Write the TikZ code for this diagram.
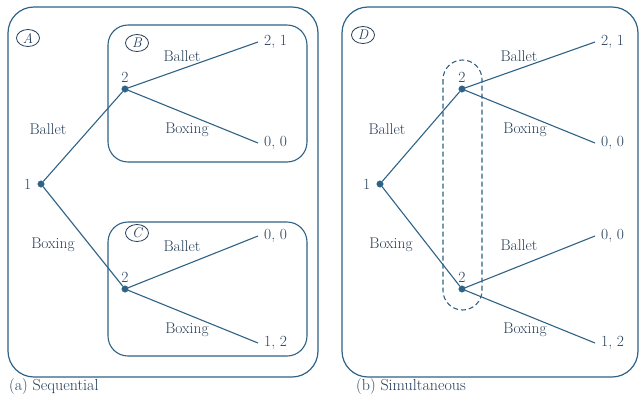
\documentclass[tikz,border=0pt]{standalone}
\usepackage{tikz}
\usetikzlibrary{positioning,shapes.geometric}
\definecolor{treeblue}{RGB}{46,98,134}
\definecolor{inkblue}{RGB}{38,62,88}
\tikzset{
  decision/.style={
    circle,
    fill=treeblue,
    draw=treeblue,
    inner sep=0pt,
    minimum size=6.5pt
  },
  branch/.style={
    treeblue,
    line width=1.1pt
  },
  frame/.style={
    draw=treeblue,
    line width=1.2pt,
    rounded corners=26pt
  },
  subgame/.style={
    draw=treeblue,
    line width=1.1pt,
    rounded corners=20pt
  },
  infoset/.style={
    draw=treeblue,
    line width=1.1pt,
    dash pattern=on 5pt off 3pt,
    rounded corners=19.5pt
  },
  move/.style={
    text=inkblue,
    inner sep=1pt,
    font=\fontsize{15.5}{18}\selectfont
  },
  payoff/.style={
    move,
    anchor=west,
    inner sep=6pt
  },
  tag/.style={
    ellipse,
    draw=inkblue,
    line width=0.8pt,
    text=inkblue,
    inner sep=0pt,
    minimum width=23pt,
    minimum height=17pt,
    font=\fontsize{14}{16}\selectfont\itshape
  }
}

\begin{document}
\begin{tikzpicture}[x=1pt,y=-1pt]
  \useasboundingbox (0,0) rectangle (641,397);

  % (a) sequential game: frames
  \draw[frame] (8,7) rectangle (318,377);
  \draw[subgame] (108,25) rectangle (307,162);
  \draw[subgame] (108,222) rectangle (307,356);
  \node[tag] (tagA) at (28,38) {A};
  \node[tag] (tagB) at (137,43) {B};
  \node[tag] (tagC) at (137,233) {C};

  % (a) tree
  \node[decision, label={[move, label distance=5pt]left:1}] (a1) at (41,184) {};
  \node[decision, label={[move, label distance=2pt]above:2}] (a2u) at (125,89) {};
  \node[decision, label={[move, label distance=2pt]above:2}] (a2l) at (125,289) {};
  \node[payoff] (a21) at (258,42) {2, 1};
  \node[payoff] (a00u) at (258,143) {0, 0};
  \node[payoff] (a00l) at (258,236) {0, 0};
  \node[payoff] (a12) at (258,343) {1, 2};
  \draw[branch] (a1) -- (a2u);
  \draw[branch] (a1) -- (a2l);
  \draw[branch] (a2u) -- (a21.west);
  \draw[branch] (a2u) -- (a00u.west);
  \draw[branch] (a2l) -- (a00l.west);
  \draw[branch] (a2l) -- (a12.west);
  \node[move] (aBa) at (48,129) {Ballet};
  \node[move] (aBo) at (53,245) {Boxing};
  \node[move] (aBaU) at (182,56) {Ballet};
  \node[move] (aBoU) at (187,130) {Boxing};
  \node[move] (aBaL) at (182,246) {Ballet};
  \node[move] (aBoL) at (187,330) {Boxing};

  % (b) simultaneous game: frame and information set
  \draw[frame] (342,7) rectangle (638,377);
  \draw[infoset] (443,60) rectangle (482,310);
  \node[tag] (tagD) at (363,35) {D};

  % (b) tree
  \node[decision, label={[move, label distance=5pt]left:1}] (b1) at (380,184) {};
  \node[decision, label={[move, label distance=2pt]above:2}] (b2u) at (462,89) {};
  \node[decision, label={[move, label distance=2pt]above:2}] (b2l) at (462,289) {};
  \node[payoff] (b21) at (595,42) {2, 1};
  \node[payoff] (b00u) at (595,143) {0, 0};
  \node[payoff] (b00l) at (595,236) {0, 0};
  \node[payoff] (b12) at (595,343) {1, 2};
  \draw[branch] (b1) -- (b2u);
  \draw[branch] (b1) -- (b2l);
  \draw[branch] (b2u) -- (b21.west);
  \draw[branch] (b2u) -- (b00u.west);
  \draw[branch] (b2l) -- (b00l.west);
  \draw[branch] (b2l) -- (b12.west);
  \node[move] (bBa) at (387,129) {Ballet};
  \node[move] (bBo) at (391,245) {Boxing};
  \node[move] (bBaU) at (519,56) {Ballet};
  \node[move] (bBoU) at (525,130) {Boxing};
  \node[move] (bBaL) at (519,245) {Ballet};
  \node[move] (bBoL) at (525,330) {Boxing};

  % captions
  \node[move, anchor=west, font=\fontsize{16}{18}\selectfont] (capA) at (8,387) {(a) Sequential};
  \node[move, anchor=west, font=\fontsize{16}{18}\selectfont] (capB) at (355,387) {(b) Simultaneous};
\end{tikzpicture}
\end{document}
